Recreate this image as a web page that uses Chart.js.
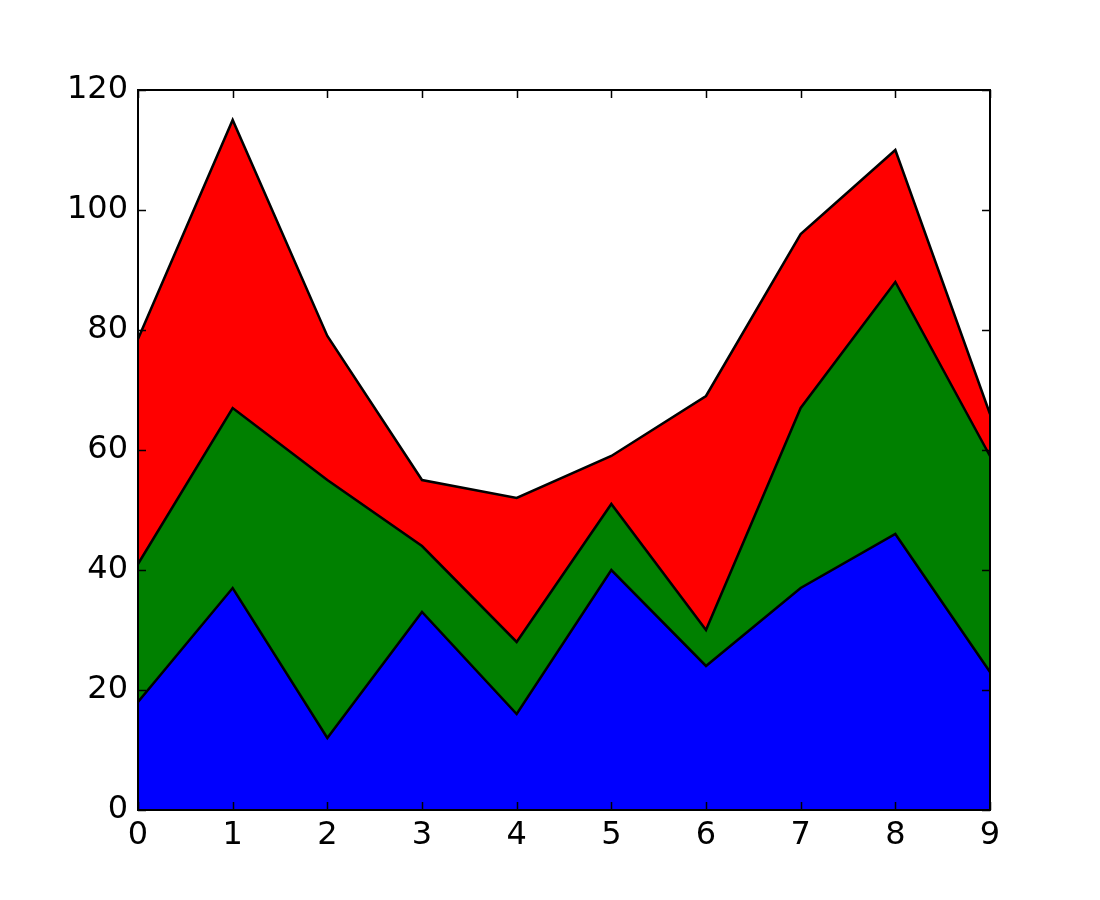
<!DOCTYPE html>
<html>
<head>
<meta charset="utf-8">
<script src="https://cdn.jsdelivr.net/npm/chart.js@4/dist/chart.umd.min.js"></script>
<style>
  html, body { margin: 0; padding: 0; background: #fff; }
  #wrap { width: 1100px; height: 900px; }
</style>
</head>
<body>
<div id="wrap"><canvas id="myChart" width="1100" height="900"></canvas></div>
<script>
// data
const xs = [0, 1, 2, 3, 4, 5, 6, 7, 8, 9];
const blueVals = [18, 37, 12, 33, 16, 40, 24, 37, 46, 23];
const greenVals = [23, 30, 43, 11, 12, 11, 6, 30, 42, 36];
const redVals = [37.5, 48, 24, 11, 24, 8, 39, 29, 22, 7];
const yTicks = [0, 20, 40, 60, 80, 100, 120];

const FONT = "'DejaVu Sans', sans-serif";

// inward tick marks on all four sides plus the frame, like matplotlib classic
const frameTicks = {
    id: 'frameTicks',
    afterDraw(chart) {
        const ctx = chart.ctx;
        const a = chart.chartArea;
        const xs_ = chart.scales.x, ys_ = chart.scales.y;
        const len = 8;
        ctx.save();
        ctx.strokeStyle = '#000';
        ctx.lineWidth = 1.5;
        ctx.beginPath();
        xs_.ticks.forEach(function(t) {
            const px = Math.round(xs_.getPixelForValue(t.value)) + 0.5;
            ctx.moveTo(px, a.bottom); ctx.lineTo(px, a.bottom - len);
            ctx.moveTo(px, a.top); ctx.lineTo(px, a.top + len);
        });
        ys_.ticks.forEach(function(t) {
            const py = Math.round(ys_.getPixelForValue(t.value)) + 0.5;
            ctx.moveTo(a.left, py); ctx.lineTo(a.left + len, py);
            ctx.moveTo(a.right, py); ctx.lineTo(a.right - len, py);
        });
        ctx.stroke();
        ctx.lineWidth = 2;
        ctx.strokeRect(a.left, a.top, a.right - a.left, a.bottom - a.top);
        ctx.restore();
    }
};

function toPts(vals) {
    return vals.map(function(v, i) { return { x: xs[i], y: v }; });
}

function areaSet(vals, color, fill) {
    return {
        data: toPts(vals),
        backgroundColor: color,
        borderColor: '#000',
        borderWidth: 2.5,
        pointRadius: 0,
        tension: 0,
        fill: fill
    };
}

new Chart(document.getElementById('myChart').getContext('2d'), {
    type: 'line',
    data: {
        datasets: [
            areaSet(blueVals, '#0000ff', 'origin'),
            areaSet(greenVals, '#008000', '-1'),
            areaSet(redVals, '#ff0000', '-1')
        ]
    },
    options: {
        responsive: false,
        animation: false,
        layout: { padding: { left: 0, top: 90, right: 110, bottom: 0 } },
        plugins: { legend: { display: false }, tooltip: { enabled: false } },
        scales: {
            x: {
                type: 'linear',
                min: 0, max: 9,
                grid: { display: false, drawTicks: false },
                border: { display: false },
                ticks: { stepSize: 1, color: '#000', font: { family: FONT, size: 32 }, padding: 6, maxRotation: 0 },
                afterFit: function(s) { s.height = 90; }
            },
            y: {
                stacked: true,
                min: 0, max: 120,
                grid: { display: false, drawTicks: false },
                border: { display: false },
                ticks: { stepSize: 20, color: '#000', font: { family: FONT, size: 32 }, padding: 10 },
                afterBuildTicks: function(s) { s.ticks = yTicks.map(function(v) { return { value: v }; }); },
                afterFit: function(s) { s.width = 138; }
            }
        }
    },
    plugins: [frameTicks]
});
</script>
</body>
</html>
